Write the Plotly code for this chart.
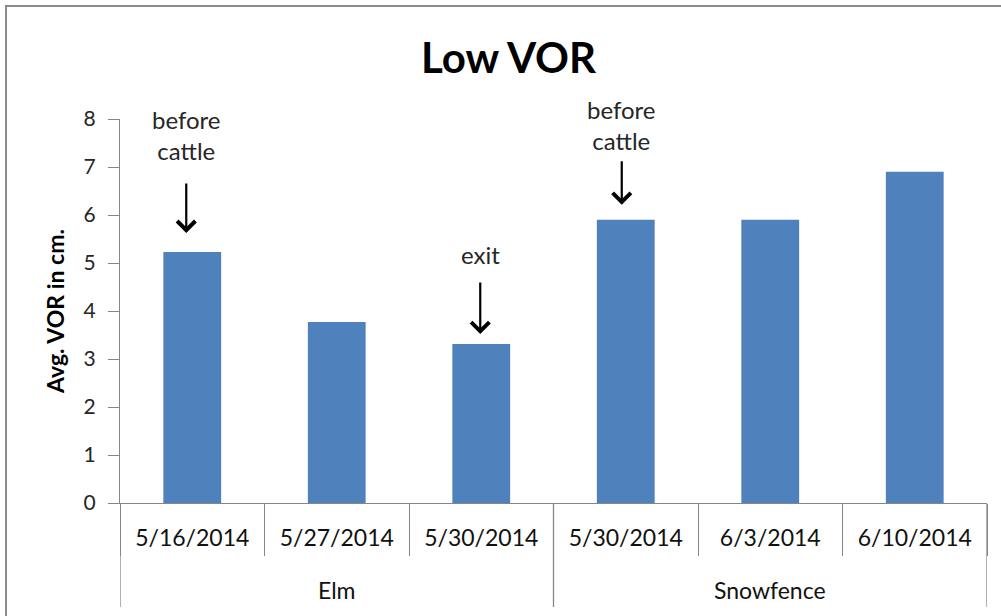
import plotly.graph_objects as go

groups = ["Elm", "Elm", "Elm", "Snowfence", "Snowfence", "Snowfence"]
dates = ["5/16/2014", "5/27/2014", "5/30/2014", "5/30/2014", "6/3/2014", "6/10/2014"]
values = [5.23, 3.77, 3.31, 5.90, 5.90, 6.90]
notes = [(0, "before<br>cattle"), (2, "exit"), (3, "before<br>cattle")]

FONT = "Lato"
BAR = "#4F81BD"
AX = "#868686"

idx = list(range(len(dates)))
fig = go.Figure(go.Bar(x=idx, y=values, marker=dict(color=BAR, line=dict(width=0)), width=0.4,
                       hoverinfo="skip"))

# arrow geometry (pixels): shift of tip above bar top, arrow length, x nudge, text gap
arrow_style = {0: (19, 51, -6, 15), 2: (10, 53, -1, 10), 3: (15, 45, -4, 3)}
for i, txt in notes:
    up, length, dx, gap = arrow_style[i]
    fig.add_annotation(x=i, y=values[i], xref="x", yref="y", text="", showarrow=True,
                       ax=0, ay=-length, axref="pixel", ayref="pixel", xshift=dx, yshift=up,
                       arrowhead=4, arrowsize=1.6, arrowwidth=2.2, arrowcolor="#000000")
    fig.add_annotation(x=i, y=values[i], xref="x", yref="y", text=txt, showarrow=False,
                       xshift=dx, yshift=up + length + gap, yanchor="bottom",
                       font=dict(family=FONT, size=24, color="#262626"))

# group labels and dividers below the category axis
group_names = list(dict.fromkeys(groups))
bounds = [-0.5]
for g in group_names:
    members = [i for i, gg in enumerate(groups) if gg == g]
    fig.add_annotation(x=sum(members) / len(members), y=-(590 - 503) / 384, xref="x", yref="paper",
                       text=g, showarrow=False, yanchor="middle",
                       font=dict(family=FONT, size=23, color="#111111"))
    bounds.append(members[-1] + 0.5)
for b in bounds:
    fig.add_shape(type="line", xref="x", yref="paper", x0=b, x1=b, y0=0, y1=-(607 - 503) / 384,
                  line=dict(color=AX, width=1.3))

fig.add_shape(type="rect", xref="paper", yref="paper", x0=(6 - 120) / 867, x1=1.2,
              y0=-0.5, y1=(503 - 6) / 384, line=dict(color="#8c8c8c", width=2), layer="below")

fig.update_layout(
    width=1001, height=616,
    margin=dict(l=120, r=14, t=119, b=113),
    paper_bgcolor="white", plot_bgcolor="white",
    showlegend=False,
    title=dict(text="<b>Low VOR</b>", x=0.508, xanchor="center", y=1 - 58 / 616, yanchor="middle",
               yref="container", font=dict(family=FONT, size=42, color="#000000")),
    xaxis=dict(range=[-0.5, 5.5], showline=True, linecolor=AX, linewidth=1.3,
               tickvals=idx, ticktext=dates, ticks="", ticklabelstandoff=14,
               minor=dict(tickvals=[i - 0.5 for i in idx] + [len(idx) - 0.5], ticks="outside",
                          ticklen=52, tickcolor=AX, tickwidth=1.3, showgrid=False),
               tickfont=dict(family=FONT, size=23, color="#111111"), showgrid=False,
               zeroline=False, automargin=False),
    yaxis=dict(range=[0, 8], dtick=1, showline=True, linecolor=AX, linewidth=1.3,
               ticks="outside", ticklen=11, tickcolor=AX, tickwidth=1.3, showgrid=False, zeroline=False,
               ticklabelstandoff=8, automargin=False,
               tickfont=dict(family=FONT, size=21, color="#262626"),
               title=dict(text="<b>Avg. VOR in cm.</b>", font=dict(family=FONT, size=23, color="#000000"),
                          standoff=12)),
)

fig.write_html("out.html", config={"displayModeBar": False},
               post_script="document.body.style.margin='0';")
